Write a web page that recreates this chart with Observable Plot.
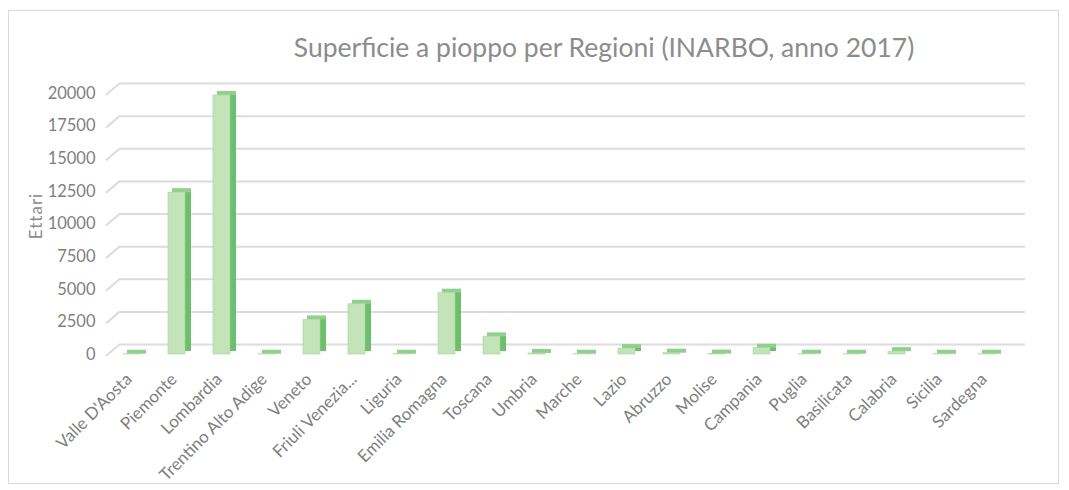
<!DOCTYPE html>
<html>
<head>
<meta charset="utf-8">
<script src="https://cdn.jsdelivr.net/npm/d3@7"></script>
<script src="https://cdn.jsdelivr.net/npm/@observablehq/plot@0.6"></script>
<style>
  html, body { margin: 0; padding: 0; background: #fff; }
  #wrap { position: relative; width: 1069px; height: 490px; overflow: hidden; }
  #frame { position: absolute; left: 8px; top: 10px; width: 1051px; height: 474px; border: 1px solid #d9d9d9; box-sizing: border-box; }
  #title { position: absolute; left: 0; width: 1208px; top: 31px; text-align: center; font-family: Lato, sans-serif; font-size: 26.5px; color: #8c8c8c; white-space: nowrap; }
  #ylabel { position: absolute; left: 35px; top: 216px; transform: translate(-50%, -50%) rotate(-90deg); font-family: Lato, sans-serif; font-size: 17px; letter-spacing: 1px; color: #8c8c8c; white-space: nowrap; }
  #chart { position: absolute; left: 0; top: 0; }
</style>
</head>
<body>
<div id="wrap">
  <div id="frame"></div>
  <div id="title">Superficie a pioppo per Regioni (INARBO, anno 2017)</div>
  <div id="ylabel">Ettari</div>
  <div id="chart"></div>
</div>
<script>
const regions = ["Valle D'Aosta","Piemonte","Lombardia","Trentino Alto Adige","Veneto","Friuli Venezia...","Liguria","Emilia Romagna","Toscana","Umbria","Marche","Lazio","Abruzzo","Molise","Campania","Puglia","Basilicata","Calabria","Sicilia","Sardegna"];
const hectares = [20, 12400, 19850, 20, 2650, 3850, 20, 4700, 1350, 80, 20, 450, 100, 30, 480, 20, 20, 220, 20, 20];
const yTicks = [0, 2500, 5000, 7500, 10000, 12500, 15000, 17500, 20000];

const data = regions.map((r, i) => ({region: r, value: hectares[i]}));
const textColor = "#7f7f7f";
const gridColor = "#dcdcdc";
const marginLeft = 109;

const chart = Plot.plot({
  width: 1069,
  height: 490,
  marginLeft: marginLeft,
  marginRight: 44,
  marginTop: 93,
  marginBottom: 136,
  style: {fontFamily: "Lato, sans-serif", fontSize: "14px", color: textColor, background: "transparent"},
  x: {domain: regions, padding: 0, insetLeft: 0, insetRight: 16, label: null},
  y: {domain: [0, 20000], label: null},
  marks: [
    Plot.ruleY(yTicks, {stroke: gridColor, strokeWidth: 2, dy: -10, insetLeft: 11}),
    Plot.axisY({ticks: yTicks, tickFormat: d3.format("d"), tickSize: 0, tickPadding: 14, fontSize: 16.5, color: textColor}),
    Plot.axisX({tickSize: 0, tickPadding: 22, tickRotate: -45, fontSize: 17, dx: -3, color: textColor}),
    // side face
    Plot.barY(data, {x: "region", y: "value", fill: "#6cbf6c", insetLeft: 31, insetRight: 8, dy: -3}),
    // top face
    Plot.barY(data, {x: "region", y1: "value", y2: "value", fill: "#8fd08c", insetLeft: 18, insetRight: 8, insetTop: -4}),
    // front face
    Plot.barY(data, {x: "region", y: "value", fill: "#c3e3b8", stroke: "#a8d49c", strokeWidth: 0.6, insetLeft: 14, insetRight: 14})
  ]
});

// slanted "floor" part of each gridline at the left of the 3D wall, placed with the chart's own y scale
const yScale = chart.scale("y");
const slant = d3.select(chart).insert("g", ":first-child")
  .attr("stroke", gridColor).attr("stroke-width", 2);
for (const t of yTicks) {
  const y = yScale.apply(t);
  slant.append("line")
    .attr("x1", marginLeft - 3).attr("y1", y + 2)
    .attr("x2", marginLeft + 11).attr("y2", y - 10);
}

document.getElementById("chart").appendChild(chart);
</script>
</body>
</html>
